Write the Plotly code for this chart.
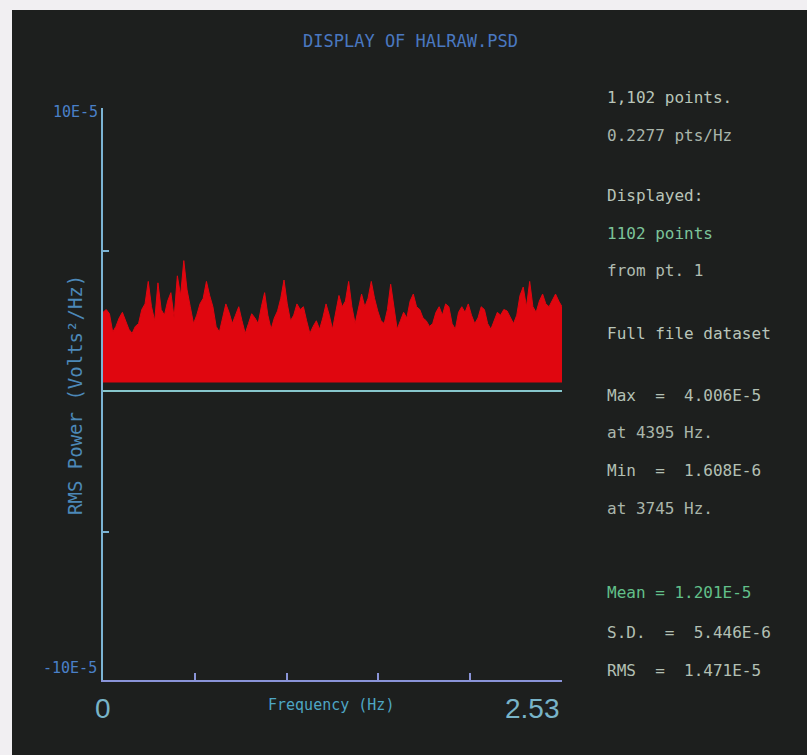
import numpy as np
import plotly.graph_objects as go

# ---- data (RMS power in units of 1E-5) ----
psd_e5 = [
    2.8, 2.9, 2.75, 2.1, 2.3, 2.6, 2.8, 2.5, 2.2, 2.05,
    2.3, 2.4, 2.9, 3.1, 3.9, 3.0, 2.5, 3.85, 2.9, 2.7,
    3.2, 3.5, 2.6, 4.1, 3.4, 4.64, 3.6, 3.0, 2.4, 2.7,
    3.1, 3.3, 3.9, 3.4, 3.0, 2.3, 2.1, 2.6, 3.1, 2.8,
    2.4, 2.7, 3.0, 2.5, 2.05, 2.4, 2.75, 2.6, 2.4, 3.0,
    3.5, 2.7, 2.2, 2.6, 2.85, 3.3, 3.95, 3.1, 2.5, 2.7,
    3.1, 2.9, 3.0, 2.5, 2.05, 2.3, 2.5, 2.2, 2.6, 3.1,
    2.7, 2.2, 2.8, 3.4, 3.0, 3.2, 3.9, 3.0, 2.4, 2.9,
    3.45, 3.0, 3.3, 3.9, 3.3, 2.85, 2.5, 2.4, 2.9, 3.8,
    3.0, 2.2, 2.5, 2.8, 2.6, 3.2, 3.45, 3.0, 2.9, 2.6,
    2.5, 2.3, 2.4, 2.8, 3.0, 2.7, 3.1, 3.0, 2.4, 2.2,
    2.8, 3.0, 2.8, 3.1, 2.7, 2.4, 2.6, 3.0, 2.9, 2.4,
    2.2, 2.5, 2.8, 2.7, 2.9, 2.85, 2.6, 2.4, 2.7, 3.4,
    3.7, 3.0, 3.9, 3.0, 2.8, 3.2, 3.45, 3.1, 3.0, 3.2,
    3.45, 3.2, 3.0,
]
noise_floor_e5 = 0.3
freq_end_khz = 2.53
x_tick_count = 6
x_tick_labels = ["0", "2.53"]
y_tick_vals = [-5, 5]
y_end_labels = ["10E-5", "-10E-5"]

title_text = "DISPLAY OF HALRAW.PSD"
x_title = "Frequency (Hz)"
y_title = "RMS Power (Volts²/Hz)"

info_lines = [
    "1,102 points.", "0.2277 pts/Hz", "Displayed:", "1102 points",
    "from pt. 1", "Full file dataset", "Max  =  4.006E-5", "at 4395 Hz.",
    "Min  =  1.608E-6", "at 3745 Hz.", "Mean = 1.201E-5",
    "S.D.  =  5.446E-6", "RMS  =  1.471E-5",
]
info_y_px = [98, 135, 195, 233, 270, 333, 395, 433, 470, 508, 592, 632, 670]
info_colors = ["#b9c5b9", "#a9b5ab", "#b9c5b9", "#7cc49a", "#b0bcb1", "#b9c5b9",
               "#b3c0b4", "#aab6ab", "#b3c0b4", "#aab6ab", "#62c08a", "#b3c0b4",
               "#b3c0b4"]

# ---- layout geometry ----
W, H = 807, 755
L, R, T, B = 103, 245, 108, 75
pw, ph = W - L - R, H - T - B


def px(x):
    return (x - L) / pw


def py(y):
    return (H - B - y) / ph


freq = np.linspace(0, freq_end_khz, len(psd_e5))
floor = [noise_floor_e5] * len(psd_e5)

RED = "#e0060f"
fig = go.Figure()
fig.add_trace(go.Scatter(x=freq, y=floor, mode="lines",
                         line=dict(width=0, color=RED), showlegend=False,
                         hoverinfo="skip"))
fig.add_trace(go.Scatter(x=freq, y=psd_e5, mode="lines", fill="tonexty",
                         fillcolor=RED, line=dict(width=1, color=RED),
                         showlegend=False))

x_ticks = np.linspace(0, freq_end_khz, x_tick_count)

fig.update_xaxes(range=[0, freq_end_khz], showgrid=False, zeroline=False,
                 showline=True, linecolor="#8a94d8", linewidth=2,
                 ticks="inside", ticklen=7, tickwidth=2, tickcolor="#8a94d8",
                 tickvals=list(x_ticks), ticktext=[""] * x_tick_count)
fig.update_yaxes(range=[-10.28, 10.07], showgrid=False, zeroline=True,
                 zerolinecolor="#86c6cc", zerolinewidth=2,
                 showline=True, linecolor="#7cb4d4", linewidth=2,
                 ticks="inside", ticklen=6, tickwidth=2, tickcolor="#7cb4d4",
                 tickvals=y_tick_vals, ticktext=["", ""])

BG = "#1d1f1e"
shapes = [
    dict(type="rect", xref="paper", yref="paper", x0=px(0), x1=px(W),
         y0=py(0), y1=py(10), fillcolor="#f1eff2", line=dict(width=0),
         layer="below"),
    dict(type="rect", xref="paper", yref="paper", x0=px(0), x1=px(12),
         y0=py(0), y1=py(H), fillcolor="#f1eff2", line=dict(width=0),
         layer="below"),
]

mono = "DejaVu Sans Mono"
narrow = "Liberation Sans Narrow, Liberation Sans"
ann = []


def add(text, x, y, size, color, family=mono, xanchor="center", xref="paper",
        angle=0):
    ann.append(dict(text=text, x=x, y=y, xref=xref, yref="paper",
                    xanchor=xanchor, yanchor="middle", textangle=angle,
                    showarrow=False,
                    font=dict(family=family, size=size, color=color)))


add(title_text, px(410), py(41), 17, "#4a78c0")
add(x_title, px(331), py(705), 15, "#4ea6c4")
add(y_title, px(75), py(395), 19, "#4c88b8", angle=-90)
add(y_end_labels[0], px(100), py(112), 15, "#4a80c8", xanchor="right")
add(y_end_labels[1], px(99), py(668), 15, "#4a80c8", xanchor="right")
add(x_tick_labels[0], 0, py(708), 28, "#78b4c8", family=narrow, xref="x")
add(x_tick_labels[1], freq_end_khz, py(708), 28, "#78b4c8", family=narrow,
    xanchor="right", xref="x")
for t, yy, c in zip(info_lines, info_y_px, info_colors):
    add(t, px(605), py(yy), 16, c, xanchor="left")

fig.update_layout(width=W, height=H, margin=dict(l=L, r=R, t=T, b=B),
                  paper_bgcolor=BG, plot_bgcolor=BG, shapes=shapes,
                  annotations=ann, showlegend=False)

fig.write_html("out.html")
